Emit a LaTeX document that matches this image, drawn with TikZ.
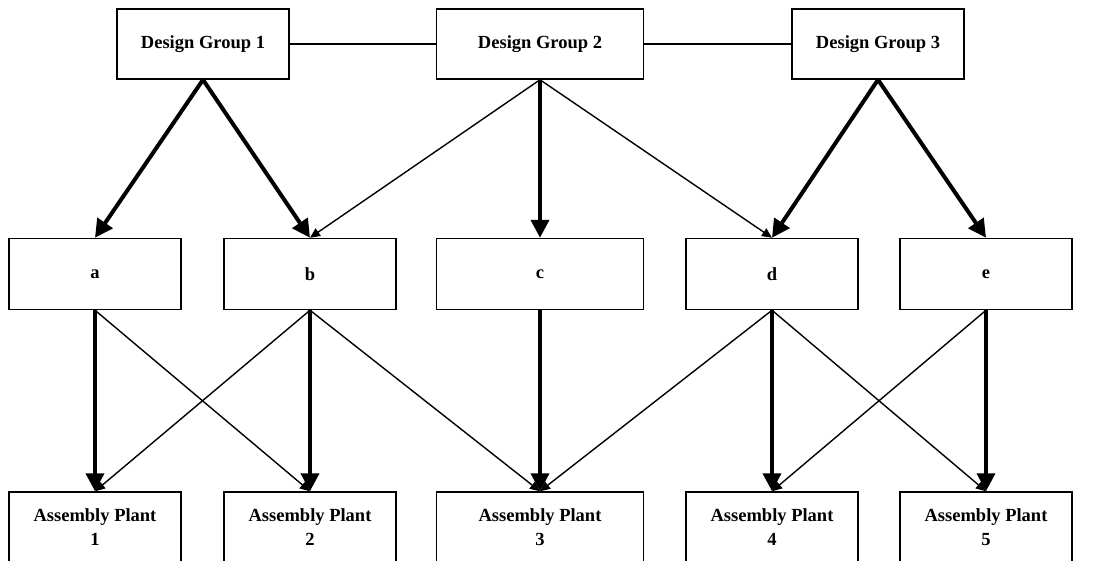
\documentclass[tikz,border=0pt]{standalone}
\usepackage{fontspec}
\setmainfont{Liberation Serif}
\usetikzlibrary{arrows.meta}

\begin{document}
\begin{tikzpicture}[x=1pt,y=-1pt,
  box/.style={draw,line width=1.5pt,minimum width=172pt,minimum height=70pt,inner sep=0pt,
    font=\fontsize{18.5}{24}\selectfont\bfseries,align=center},
  widebox/.style={box,minimum width=207pt},
  main/.style={line width=4pt,-{Triangle[length=18pt,width=18pt]}},
  side/.style={line width=1.4pt,-{Triangle[length=10pt,width=9pt]}}]
  \useasboundingbox (0,0) rectangle (1111,560);
  % design groups
  \node[box] (dg1) at (203,44) {Design Group 1};
  \node[widebox] (dg2) at (540,44) {Design Group 2};
  \node[box] (dg3) at (878,44) {Design Group 3};
  \draw[line width=1.4pt] (dg1) -- (dg2) -- (dg3);
  % parts
  \node[box,minimum height=71pt] (pa) at (95,274) {a};
  \node[box,minimum height=71pt] (pb) at (310,274) {b};
  \node[widebox,minimum height=71pt] (pc) at (540,274) {c};
  \node[box,minimum height=71pt] (pd) at (772,274) {d};
  \node[box,minimum height=71pt] (pe) at (986,274) {e};
  % assembly plants
  \node[box] (ap1) at (95,527) {Assembly Plant\\1};
  \node[box] (ap2) at (310,527) {Assembly Plant\\2};
  \node[widebox] (ap3) at (540,527) {Assembly Plant\\3};
  \node[box] (ap4) at (772,527) {Assembly Plant\\4};
  \node[box] (ap5) at (986,527) {Assembly Plant\\5};
  % groups to parts
  \draw[main] (dg1.south) -- (pa.north);
  \draw[main] (dg1.south) -- (pb.north);
  \draw[side] (dg2.south) -- (pb.north);
  \draw[main] (dg2.south) -- (pc.north);
  \draw[side] (dg2.south) -- (pd.north);
  \draw[main] (dg3.south) -- (pd.north);
  \draw[main] (dg3.south) -- (pe.north);
  % parts to plants
  \draw[main] (pa.south) -- (ap1.north);
  \draw[side] (pa.south) -- (ap2.north);
  \draw[side] (pb.south) -- (ap1.north);
  \draw[main] (pb.south) -- (ap2.north);
  \draw[side] (pb.south) -- (ap3.north);
  \draw[main] (pc.south) -- (ap3.north);
  \draw[side] (pd.south) -- (ap3.north);
  \draw[main] (pd.south) -- (ap4.north);
  \draw[side] (pd.south) -- (ap5.north);
  \draw[side] (pe.south) -- (ap4.north);
  \draw[main] (pe.south) -- (ap5.north);
\end{tikzpicture}
\end{document}
